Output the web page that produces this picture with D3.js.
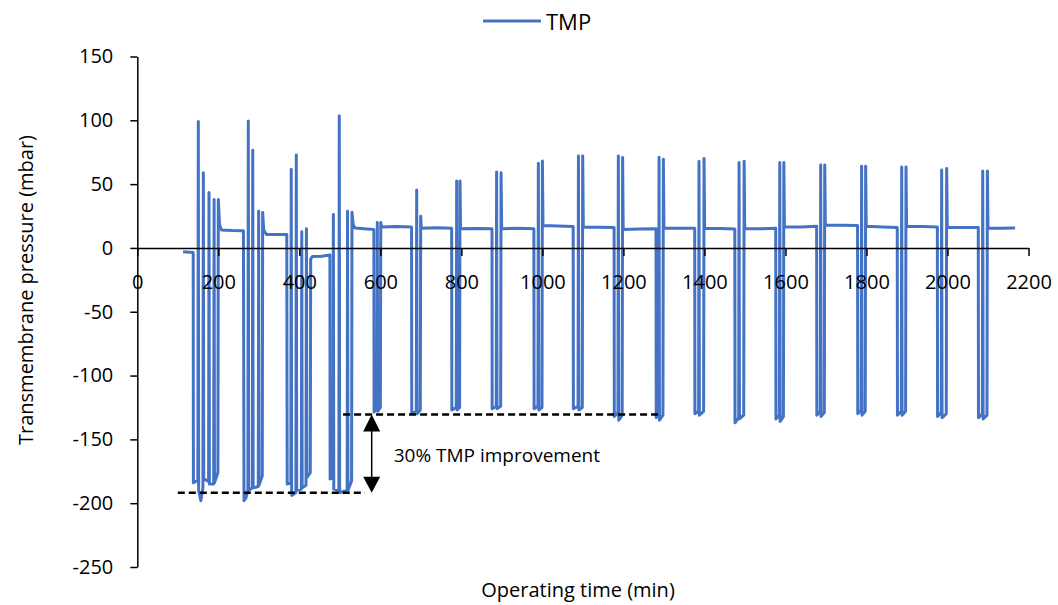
<!DOCTYPE html>
<html>
<head>
<meta charset="utf-8">
<script src="https://cdn.jsdelivr.net/npm/d3@7"></script>
<style>
  body { margin: 0; background: #fff; }
  text { font-family: "Open Sans", sans-serif; fill: #000; }
</style>
</head>
<body>
<svg width="1058" height="605"></svg>
<script>
// tick values
const xTicks = [0, 200, 400, 600, 800, 1000, 1200, 1400, 1600, 1800, 2000, 2200]
const yTicks = [-250, -200, -150, -100, -50, 0, 50, 100, 150]

// TMP readings [time (min), TMP (mbar)] - start-up with the first four cleaning clusters
const startupPhase = [
  [113, -3], [138, -3.5],
  [138.5, -184], [149.5, -182], [150.6, 99], [151.5, -190], [157, -198], [162, -188], [163, 59],
  [164, -181], [176, -183], [177, 43.5], [178, -185], [188.5, -185], [189.6, 38],
  [190.5, -184], [199, -176], [200, 38], [203, 18], [208, 14], [235, 13.6], [262, 13.4],
  [263.4, -198], [268, -196], [273, -190], [274, 99.4], [275, -190], [284, -188], [285, 76.6],
  [286, -188], [298.6, -187], [299.6, 28.8], [300.5, -186], [308.5, -178.5], [309.5, 27.8],
  [312, 14], [319, 10.5], [345, 10.5], [369, 10.5],
  [370, -185], [379, -184], [380, 61.6], [381, -194], [391.5, -191.6], [392.5, 72.9],
  [393.5, -190], [405, -189], [406, 12.6], [407, -188], [416.5, -186], [417.5, 15],
  [418.5, -180], [427, -176], [428, -8.7], [432, -6.8], [455, -6.5], [475.5, -5.5],
  [476, -181], [483, -180], [484, 26.2], [485, -189], [497.5, -190], [498.6, 103.6],
  [499.5, -191.6], [518, -190], [519, 28.8], [520, -190], [529, -182.5], [530, 28],
  [533, 18], [537.4, 15.7], [560, 15], [584, 14.5]
]

// steady operation, one backwash every ~100 min
const steadyPhase = [
  [584.5, -128.6], [591.5, -126], [592.5, 20], [593.5, -128], [600, -125], [601, 20], [603, 16.5], [640, 16.8], [677, 16.5],
  [677.5, -130], [688.7, -128], [689.7, 45.4], [690.7, -130], [698.6, -127], [699.6, 24.9], [701, 15.5], [740, 15.8], [776, 15.5],
  [776.5, -127], [787.4, -125], [788.4, 52.4], [789.4, -127], [795.6, -125], [796.6, 52.4], [798, 15], [840, 15.3], [875.6, 15],
  [876, -126], [886, -124], [887, 59.5], [888, -126], [897, -124], [898, 59], [899.5, 15], [940, 15.4], [979, 15],
  [979.5, -126], [989, -124], [990, 66.4], [991, -127], [999, -125], [1000, 68.2], [1001.5, 17.5], [1040, 17.2], [1076, 16.8],
  [1076.5, -126], [1088, -124], [1089, 72], [1090, -127], [1098.5, -125], [1099.5, 72], [1101, 16.5], [1140, 16.3], [1177, 16],
  [1177.5, -132], [1186.5, -129], [1187.5, 72], [1188.5, -135], [1197, -131], [1198, 70.8], [1199.5, 14.5], [1240, 14.8], [1280.5, 15],
  [1281, -133], [1287, -130], [1288, 71], [1289, -135], [1297.6, -131], [1298.6, 69.5], [1300, 15.7], [1340, 15.5], [1376, 15.5],
  [1376.5, -130], [1385.6, -128], [1386.6, 68], [1387.6, -131], [1398, -128], [1399, 70], [1400.5, 15.5], [1440, 15.2], [1475, 14.8],
  [1475.5, -137], [1484.5, -133], [1485.5, 67], [1486.5, -134], [1497, -131], [1498, 68], [1499.5, 15], [1540, 15], [1576, 15.5],
  [1576.5, -134], [1585, -131], [1586, 67], [1587, -136], [1595, -132], [1596, 67], [1597.5, 16.5], [1640, 16.5], [1677, 17],
  [1677.5, -131], [1686, -128], [1687, 65], [1688, -132], [1696, -129], [1697, 65], [1698.5, 18], [1740, 17.8], [1778, 17.5],
  [1778.5, -130], [1787, -127], [1788, 64], [1789, -131], [1797, -128], [1798, 64], [1799.5, 17], [1840, 16.5], [1876, 16],
  [1876.5, -131], [1886, -128], [1887, 63.5], [1888, -131], [1896.6, -128], [1897.6, 63.5], [1899, 17], [1940, 16.8], [1975, 16.5],
  [1975.5, -132], [1984.6, -129], [1985.6, 61], [1986.6, -133], [1997, -130], [1998, 62.2], [1999.5, 16.2], [2040, 16], [2076, 16],
  [2076.5, -133], [2086, -130], [2087, 60.3], [2088, -134], [2097.5, -131], [2098.5, 60.3], [2100, 15.7], [2130, 15.5], [2167, 15.7]
]

// annotation: dashed reference levels [level, from, to] and arrow
const dashLevels = [[-191.9, 100, 562], [-130.5, 508, 1289]]
const arrowTime = 578.6
const noteText = '30% TMP improvement'

const tmp = startupPhase.concat(steadyPhase)

const svg = d3.select('svg')
const blue = '#4472C4'

const x = d3.scaleLinear().domain([0, 2200]).range([137.3, 1028.5])
const y = d3.scaleLinear().domain([-250, 150]).range([567, 56.5])

// the series (drawn first, axes sit on top like in the original)
const line = d3.line().x(d => x(d[0])).y(d => y(d[1]))
svg.append('path')
  .datum(tmp)
  .attr('d', line)
  .attr('fill', 'none')
  .attr('stroke', blue)
  .attr('stroke-width', 3)
  .attr('stroke-linejoin', 'round')

// y axis
const yAxis = svg.append('g')
  .attr('transform', `translate(${x(0)},0)`)
  .call(d3.axisLeft(y).tickValues(yTicks).tickFormat(d => String(d))
    .tickSize(7).tickSizeOuter(0).tickPadding(17))
yAxis.selectAll('text').style('font-size', '20px')

// x axis through zero
const xAxis = svg.append('g')
  .attr('transform', `translate(0,${y(0)})`)
  .call(d3.axisBottom(x).tickValues(xTicks).tickFormat(d => String(d))
    .tickSize(8).tickSizeOuter(0).tickPadding(19))
xAxis.selectAll('text').style('font-size', '20px')

svg.selectAll('.domain, .tick line').attr('stroke', '#000').attr('stroke-width', 1.5)

// dashed levels
svg.selectAll('.level')
  .data(dashLevels)
  .enter().append('line')
  .attr('class', 'level')
  .attr('x1', d => x(d[1]))
  .attr('x2', d => x(d[2]))
  .attr('y1', d => y(d[0]))
  .attr('y2', d => y(d[0]))
  .attr('stroke', '#000')
  .attr('stroke-width', 2.5)
  .attr('stroke-dasharray', '7,4')

// double arrow
const ax = x(arrowTime), yTop = y(dashLevels[1][0]), yBot = y(dashLevels[0][0])
svg.append('line')
  .attr('x1', ax).attr('x2', ax)
  .attr('y1', yTop + 10).attr('y2', yBot - 10)
  .attr('stroke', '#000').attr('stroke-width', 1.5)
svg.append('path')
  .attr('d', `M${ax},${yTop}L${ax - 8.5},${yTop + 17}L${ax + 8.5},${yTop + 17}Z`)
  .attr('fill', '#000')
svg.append('path')
  .attr('d', `M${ax},${yBot}L${ax - 8.5},${yBot - 16}L${ax + 8.5},${yBot - 16}Z`)
  .attr('fill', '#000')

svg.append('text')
  .attr('x', ax + 22)
  .attr('y', (yTop + yBot) / 2 + 8)
  .style('font-size', '19px')
  .text(noteText)

// axis titles
svg.append('text')
  .attr('transform', 'translate(25,290) rotate(-90)')
  .attr('text-anchor', 'middle')
  .attr('dominant-baseline', 'central')
  .style('font-size', '20px')
  .text('Transmembrane pressure (mbar)')

svg.append('text')
  .attr('x', 578)
  .attr('y', 597)
  .attr('text-anchor', 'middle')
  .style('font-size', '20px')
  .text('Operating time (min)')

// legend
svg.append('line')
  .attr('x1', 483).attr('x2', 541)
  .attr('y1', 21).attr('y2', 21)
  .attr('stroke', blue).attr('stroke-width', 3)
svg.append('text')
  .attr('x', 546)
  .attr('y', 21)
  .attr('dominant-baseline', 'central')
  .style('font-size', '22px')
  .text('TMP')
</script>
</body>
</html>
